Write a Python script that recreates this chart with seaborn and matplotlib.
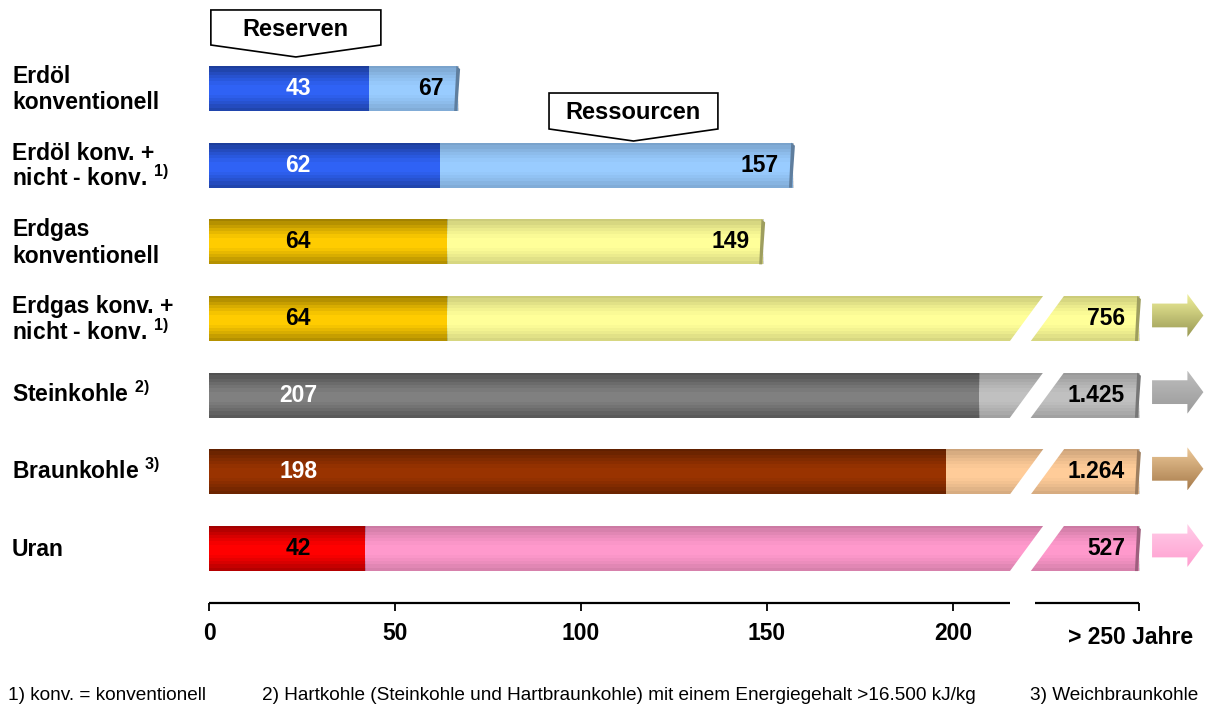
import numpy as np
import matplotlib
matplotlib.use("Agg")
import matplotlib.pyplot as plt
import matplotlib.transforms as mtransforms
from matplotlib.patches import Polygon
import seaborn as sns

# Reichweite fossiler Energieträger in Jahren
categories = ["Erdöl\nkonventionell",
              "Erdöl konv. +\nnicht - konv. $^{1)}$",
              "Erdgas\nkonventionell",
              "Erdgas konv. +\nnicht - konv. $^{1)}$",
              "Steinkohle $^{2)}$",
              "Braunkohle $^{3)}$",
              "Uran"]
reserves = [43, 62, 64, 64, 207, 198, 42]
resources_total = [67, 157, 149, 756, 1425, 1264, 527]

reserve_colors = ["#2f62f5", "#2f62f5", "#ffcc00", "#ffcc00", "#808080", "#993300", "#ff0000"]
resource_colors = ["#99ccff", "#99ccff", "#ffff99", "#ffff99", "#c0c0c0", "#ffcc99", "#ff99cc"]
reserve_text_colors = ["white", "white", "black", "black", "white", "white", "black"]
arrow_top = {3: "#eeee99", 4: "#bdbdbd", 5: "#ecc898", 6: "#ffcce8"}
arrow_bottom = {3: "#9a9a55", 4: "#9a9a9a", 5: "#a87c4c", 6: "#ff9fd0"}

xticks = [0, 50, 100, 150, 200, 250]
xticklabels = ["0", "50", "100", "150", "200", "> 250 Jahre"]
cap = 250
footnotes = ["1) konv. = konventionell",
             "2) Hartkohle (Steinkohle und Hartbraunkohle) mit einem Energiegehalt >16.500 kJ/kg",
             "3) Weichbraunkohle"]

sns.set_style("white")
plt.rcParams["font.family"] = ["Liberation Sans", "DejaVu Sans"]
plt.rcParams["text.color"] = "black"
plt.rcParams["xtick.color"] = "black"
plt.rcParams["mathtext.fontset"] = "custom"
plt.rcParams["mathtext.rm"] = "Liberation Sans:bold"
plt.rcParams["mathtext.bf"] = "Liberation Sans:bold"
plt.rcParams["mathtext.it"] = "Liberation Sans:bold"
plt.rcParams["mathtext.default"] = "rm"

fig = plt.figure(figsize=(12.08, 7.04), dpi=100)
ax = fig.add_axes([209 / 1208, 101 / 704, 997 / 1208, 603 / 704])

shown = np.minimum(resources_total, cap)
idx = [str(i) for i in range(len(categories))]
bar_h = 0.587
fs = 16.5

sns.barplot(x=shown, y=idx, hue=idx, palette=resource_colors, orient="h",
            width=bar_h, saturation=1, legend=False, linewidth=0, ax=ax)
sns.barplot(x=reserves, y=idx, hue=idx, palette=reserve_colors, orient="h",
            width=bar_h, saturation=1, legend=False, linewidth=0, ax=ax)
bars = list(ax.patches)

# horizontal stripes for the 3D look
profile = np.array([0.20, 0.16, 0.12, 0.08, 0.05, 0.02, 0.0, 0.0, 0.0, 0.02, 0.05, 0.08, 0.12, 0.16])
for p in bars:
    img = np.zeros((len(profile), 1, 4))
    img[:, 0, 3] = profile
    x0, y0, w, h = p.get_x(), p.get_y(), p.get_width(), p.get_height()
    im = ax.imshow(img, extent=(x0, x0 + w, y0 + h, y0), aspect="auto",
                   interpolation="nearest", zorder=p.get_zorder() + 0.5)
    im.set_clip_path(p)

# darker end caps of the resource bars
for i, p in enumerate(bars[:len(categories)]):
    x1, y0, h = p.get_x() + p.get_width(), p.get_y(), p.get_height()
    dark = np.array(matplotlib.colors.to_rgb(resource_colors[i])) * 0.62
    ax.add_patch(Polygon([(x1 - 0.5, y0), (x1 + 0.5, y0 + 0.04), (x1 - 0.3, y0 + h), (x1 - 1.1, y0 + h)],
                         closed=True, facecolor=dark, edgecolor="none", zorder=p.get_zorder() + 0.6))

# break in the long bars and arrows
for i, tot in enumerate(resources_total):
    c = i
    top, bot = c - bar_h / 2 - 0.05, c + bar_h / 2 + 0.05
    if tot > cap:
        slope = (215.3 - 224.2) / bar_h
        xa = lambda x, y: x + slope * (y - (c - bar_h / 2))
        gap = Polygon([(xa(224.2, top), top), (xa(229.8, top), top),
                       (xa(229.8, bot), bot), (xa(224.2, bot), bot)],
                      closed=True, facecolor="white", edgecolor="none", zorder=5)
        ax.add_patch(gap)
        yc = c - 0.04
        arr = Polygon([(253.5, yc - 0.155), (263, yc - 0.155), (263, yc - 0.28), (267.3, yc),
                       (263, yc + 0.28), (263, yc + 0.155), (253.5, yc + 0.155)],
                      closed=True, facecolor="none", edgecolor="none", zorder=4)
        ax.add_patch(arr)
        t = np.array(matplotlib.colors.to_rgb(arrow_top[i]))
        b = np.array(matplotlib.colors.to_rgb(arrow_bottom[i]))
        grad = np.linspace(0, 1, 30)[:, None, None]
        img = (t * (1 - grad) + b * grad)
        im = ax.imshow(img, extent=(253.5, 267.3, yc + 0.28, yc - 0.28), aspect="auto",
                       interpolation="bilinear", zorder=4)
        im.set_clip_path(arr)

# value labels
for i in range(len(categories)):
    ax.text(24, i, str(reserves[i]), ha="center", va="center", fontsize=fs,
            fontweight="bold", color=reserve_text_colors[i], zorder=6)
    ax.text(min(resources_total[i], cap) - 3.8, i, f"{resources_total[i]:,}".replace(",", "."),
            ha="right", va="center", fontsize=fs, fontweight="bold", color="black", zorder=6)

# category labels, one text per line, baselines placed in pixels from the bar centre
trans = mtransforms.blended_transform_factory(fig.transFigure, ax.transData)
for i, lab in enumerate(categories):
    lines = lab.split("\n")
    offsets = [7] if len(lines) == 1 else [-5.6, 21]
    for line, dy in zip(lines, offsets):
        tr = trans + mtransforms.ScaledTranslation(0, -dy / 100, fig.dpi_scale_trans)
        ax.text(12 / 1208, i, line, transform=tr, ha="left", va="baseline",
                fontsize=fs, fontweight="bold")

# callouts
def callout(x0, x1, ytop, ybot, ytip, text):
    xm = (x0 + x1) / 2
    ax.add_patch(Polygon([(x0, ytop), (x1, ytop), (x1, ybot), (xm, ytip), (x0, ybot)],
                         closed=True, facecolor="white", edgecolor="black", lw=1.2, zorder=7))
    ax.text(xm, (ytop + ybot) / 2 + 0.025, text, ha="center", va="center", fontsize=17,
            fontweight="bold", zorder=8)

callout(0.5, 46.2, -1.024, -0.567, -0.411, "Reserven")
callout(91.4, 136.8, 0.059, 0.528, 0.685, "Ressourcen")

# axes
ax.set_xlim(0, 268)
ax.set_ylim(6.71, -1.154)
sns.despine(ax=ax, left=True, bottom=True)
ax.set_yticks([])
ax.set_ylabel("")
ax.set_xlabel("")
ax.set_xticks(xticks)
ax.set_xticklabels(xticklabels, fontsize=fs, fontweight="bold")
ax.tick_params(axis="x", bottom=True, direction="out", length=5.5, width=1.3, pad=8, color="black")
last = ax.get_xticklabels()[-1]
last.set_transform(last.get_transform() + mtransforms.ScaledTranslation(-0.08, -0.04, fig.dpi_scale_trans))
ax.plot([0, 215.3], [6.71, 6.71], color="black", lw=1.6, clip_on=False, solid_capstyle="butt")
ax.plot([222.0, 250], [6.71, 6.71], color="black", lw=1.6, clip_on=False, solid_capstyle="butt")

# footnotes
for x, t in zip([8, 262, 1030], footnotes):
    fig.text(x / 1208, 9 / 704, t, ha="left", va="center", fontsize=13.7)

fig.savefig("out.png", dpi=100)
